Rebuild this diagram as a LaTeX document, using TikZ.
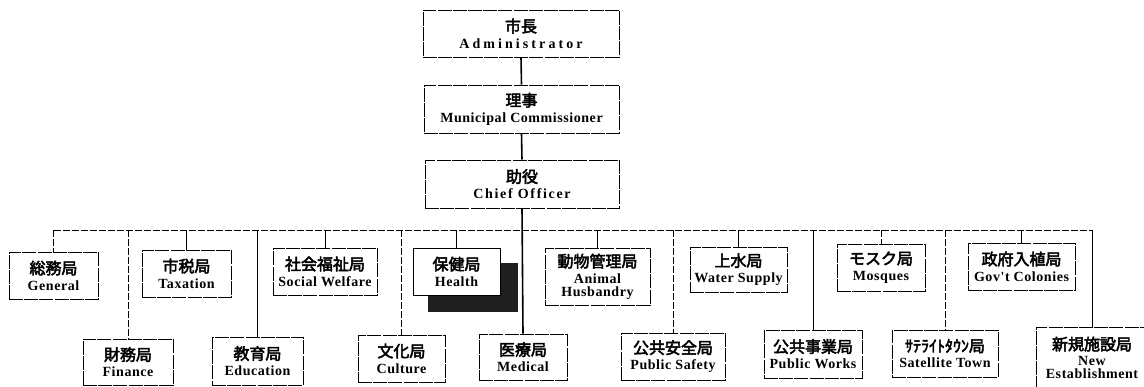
\documentclass[tikz,border=0pt]{standalone}
\usepackage{fontspec}
\setmainfont{Liberation Serif}
\newfontfamily\cjkfont[FakeBold=3]{Noto Sans CJK JP}
\newfontfamily\engfont[LetterSpace=4]{Liberation Serif}
\newcommand{\jtxt}[1]{{\cjkfont\fontsize{16}{17}\selectfont #1}}
\newcommand{\etxt}[1]{{\engfont\bfseries\fontsize{14}{15}\selectfont #1}}
\tikzset{
  orgbox/.style={draw=black, fill=white, line width=1pt, dash pattern=on 14pt off 1.2pt,
    inner sep=0pt, align=center, font=\fontsize{14}{16}\selectfont},
  solidline/.style={draw=black, line width=1pt},
  brokenline/.style={draw=black, line width=1pt, dash pattern=on 7pt off 2pt},
  trunkline/.style={draw=black, line width=1.6pt},
}
\begin{document}
\begin{tikzpicture}[x=1pt,y=-1pt]
\clip (0,0) rectangle (1144,386);
\fill[white] (0,0) rectangle (1144,386);

% bus coordinates
\coordinate (busL) at (53.5,230);
\coordinate (busR) at (1092,230);

% top chain
\node[orgbox, minimum width=196pt, minimum height=47pt] (adm) at (521,33.5)
  {\jtxt{市長}\\\etxt{\addfontfeature{LetterSpace=22}Administrator}};
\node[orgbox, minimum width=195pt, minimum height=48pt] (com) at (521.5,109)
  {\jtxt{理事}\\\etxt{Municipal Commissioner}};
\node[orgbox, minimum width=194pt, minimum height=48pt] (chief) at (522,184)
  {\jtxt{助役}\\\etxt{\addfontfeature{LetterSpace=12}Chief Officer}};

% row 1
\node[orgbox, minimum width=89pt, minimum height=47pt] (gen) at (53.5,275.5)
  {\jtxt{総務局}\\\etxt{General}};
\node[orgbox, minimum width=89pt, minimum height=47pt] (tax) at (186.5,273.5)
  {\jtxt{市税局}\\\etxt{Taxation}};
\node[orgbox, minimum width=104pt, minimum height=47pt] (soc) at (325,271.5)
  {\jtxt{社会福祉局}\\\etxt{Social Welfare}};
\node[orgbox, minimum width=105pt, minimum height=57pt] (ani) at (597.5,276.5)
  {\jtxt{動物管理局}\\\etxt{Animal}\\[-3pt]\etxt{Husbandry}};
\node[orgbox, minimum width=97pt, minimum height=45pt] (wat) at (738.5,269.5)
  {\jtxt{上水局}\\\etxt{Water Supply}};
\node[orgbox, minimum width=88pt, minimum height=47pt] (mos) at (881,267.5)
  {\jtxt{モスク局}\\\etxt{Mosques}};
\node[orgbox, minimum width=107pt, minimum height=47pt] (gov) at (1021.5,266.5)
  {\jtxt{政府入植局}\\\etxt{Gov't Colonies}};

% health with shadow
\fill[black!88] (428,263) rectangle (518,312);
\node[orgbox, solid, minimum width=87pt, minimum height=47pt] (hea) at (456.5,271.5)
  {\jtxt{保健局}\\\etxt{Health}};

% row 2
\node[orgbox, minimum width=90pt, minimum height=46pt] (fin) at (128,362)
  {\jtxt{財務局}\\\etxt{Finance}};
\node[orgbox, minimum width=91pt, minimum height=48pt] (edu) at (257.5,361)
  {\jtxt{教育局}\\\etxt{Education}};
\node[orgbox, minimum width=87pt, minimum height=47pt] (cul) at (401.5,358.5)
  {\jtxt{文化局}\\\etxt{Culture}};
\node[orgbox, minimum width=88pt, minimum height=46pt] (med) at (523,357)
  {\jtxt{医療局}\\\etxt{Medical}};
\node[orgbox, minimum width=104pt, minimum height=47pt] (pub) at (673,356.5)
  {\jtxt{公共安全局}\\\etxt{Public Safety}};
\node[orgbox, minimum width=98pt, minimum height=48pt] (pw) at (813,354)
  {\jtxt{公共事業局}\\\etxt{Public Works}};
\node[orgbox, minimum width=106pt, minimum height=47pt] (sat) at (945,353.5)
  {\jtxt{ｻﾃﾗｲﾄﾀｳﾝ局}\\\etxt{Satellite Town}};
\node[orgbox, minimum width=112pt, minimum height=61pt] (new) at (1092,357.5)
  {\jtxt{新規施設局}\\[-1pt]\etxt{New}\\[-3pt]\etxt{Establishment}};

% trunk
\draw[trunkline] (adm.south) -- (com.north);
\draw[trunkline] (com.south) -- (chief.north);
\draw[trunkline] (chief.south) -- (med.north);

% bus
\draw[brokenline] (busL) -- (busR);

% branches
\draw[brokenline] (busL) -- (gen.north);
\draw[brokenline] (fin.north |- busL) -- (fin.north);
\draw[solidline] (tax.north |- busL) -- (tax.north);
\draw[solidline] (edu.north |- busL) -- (edu.north);
\draw[solidline] (soc.north |- busL) -- (soc.north);
\draw[brokenline] (cul.north |- busL) -- (cul.north);
\draw[solidline] (hea.north |- busL) -- (hea.north);
\draw[solidline] (ani.north |- busL) -- (ani.north);
\draw[brokenline] (pub.north |- busL) -- (pub.north);
\draw[solidline] (wat.north |- busL) -- (wat.north);
\draw[solidline] (pw.north |- busL) -- (pw.north);
\draw[brokenline] (mos.north |- busL) -- (mos.north);
\draw[brokenline] (sat.north |- busL) -- (sat.north);
\draw[solidline] (gov.north |- busL) -- (gov.north);
\draw[solidline] (busR) -- (new.north);
\end{tikzpicture}
\end{document}
